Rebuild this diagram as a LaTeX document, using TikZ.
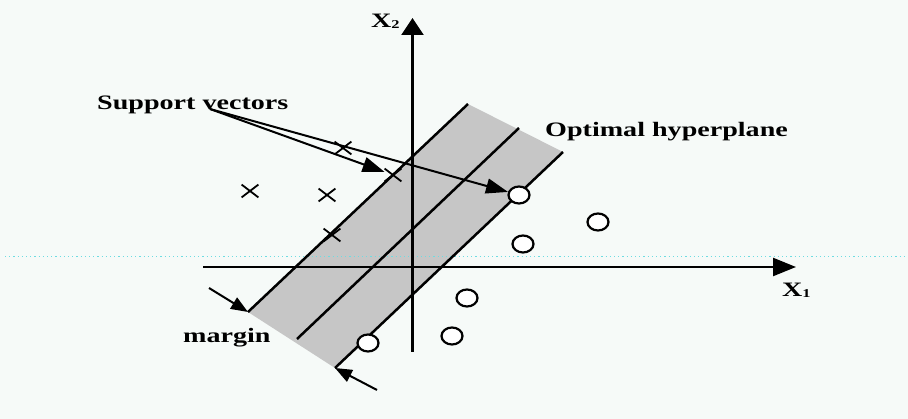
\documentclass[tikz,border=0pt]{standalone}
\usepackage{fontspec}
\setmainfont{Liberation Serif}
\usetikzlibrary{arrows.meta,shapes.geometric,shapes.misc}
\definecolor{bg}{RGB}{246,250,248}
\definecolor{bandgray}{RGB}{198,198,198}
\definecolor{dotcyan}{RGB}{110,220,225}
\newcommand{\wide}[1]{\scalebox{1.37}[1]{#1}}
\newcommand{\subdigit}[1]{\raisebox{-1pt}{\fontsize{12}{12}\selectfont #1}}
\begin{document}
\begin{tikzpicture}[x=1pt,y=-1pt,
  lbl/.style={inner sep=0pt,font=\bfseries\fontsize{20.5}{24}\selectfont},
  ln/.style={line width=2.5pt},
  axis/.style={line width=2.4pt},
  xmark/.style={cross out,draw,line width=1.8pt,minimum width=15pt,minimum height=11pt,inner sep=0pt},
  omark/.style={ellipse,draw,fill=white,line width=2.2pt,minimum width=21pt,minimum height=17pt,inner sep=0pt},
  ptr/.style={line width=2pt,-{Triangle[length=22pt,width=15pt]}},
  mptr/.style={line width=2pt,-{Triangle[length=17pt,width=13pt]}}
]
\fill[bg] (0,0) rectangle (908,419);
\useasboundingbox (0,0) rectangle (908,419);

% band corners
\coordinate (L1t) at (468,104);
\coordinate (L1b) at (248,312);
\coordinate (L2t) at (519,128);
\coordinate (L2b) at (297,339);
\coordinate (L3t) at (563,152);
\coordinate (L3b) at (335,368);

\fill[bandgray] (L1t) -- (L3t) -- (L3b) -- (L1b) -- cycle;

% faint scan artifact line
\draw[dotcyan, line width=1pt, dash pattern=on 1.2pt off 3pt] (5,257) -- (905,257);

% axes
\coordinate (yb) at (412.5,352);
\coordinate (yt) at (412.5,18);
\coordinate (xl) at (203,267);
\coordinate (xr) at (796,267);
\draw[axis,-{Triangle[length=17pt,width=22pt]}] (yb) -- (yt);
\draw[axis,-{Triangle[length=23pt,width=18pt]}] (xl) -- (xr);

% margin lines and optimal hyperplane
\draw[ln] (L1b) -- (L1t);
\draw[ln] (L2b) -- (L2t);
\draw[ln] (L3b) -- (L3t);

% crosses
\node[xmark] (x1) at (250,191) {};
\node[xmark] (x2) at (327,195) {};
\node[xmark] (x3) at (332,235) {};
\node[xmark] (x4) at (343,148) {};
\node[xmark] (x5) at (393,175) {};

% circles
\node[omark] (c1) at (519,195) {};
\node[omark] (c2) at (598,222) {};
\node[omark] (c3) at (523,244) {};
\node[omark] (c4) at (467,298) {};
\node[omark] (c5) at (452,336) {};
\node[omark] (c6) at (368,343) {};

% labels
\node[lbl,anchor=base west] (sv) at (97,110) {\wide{Support vectors}};
\node[lbl,anchor=base west] (oh) at (545,137) {\wide{Optimal hyperplane}};
\node[lbl,anchor=base west] (mg) at (183,343) {\wide{margin}};
\node[lbl,anchor=base west] (lx1) at (782,297) {\wide{X\subdigit{1}}};
\node[lbl,anchor=base west] (lx2) at (371,28) {\wide{X\subdigit{2}}};

% support vector pointers
\coordinate (svs) at (210,109);
\draw[ptr] (svs) -- (x5);
\draw[ptr] (svs) -- (c1);

% margin pointers
\coordinate (m1) at (209,288);
\coordinate (m2) at (377,390);
\draw[mptr] (m1) -- (L1b);
\draw[mptr] (m2) -- (L3b);
\end{tikzpicture}
\end{document}
